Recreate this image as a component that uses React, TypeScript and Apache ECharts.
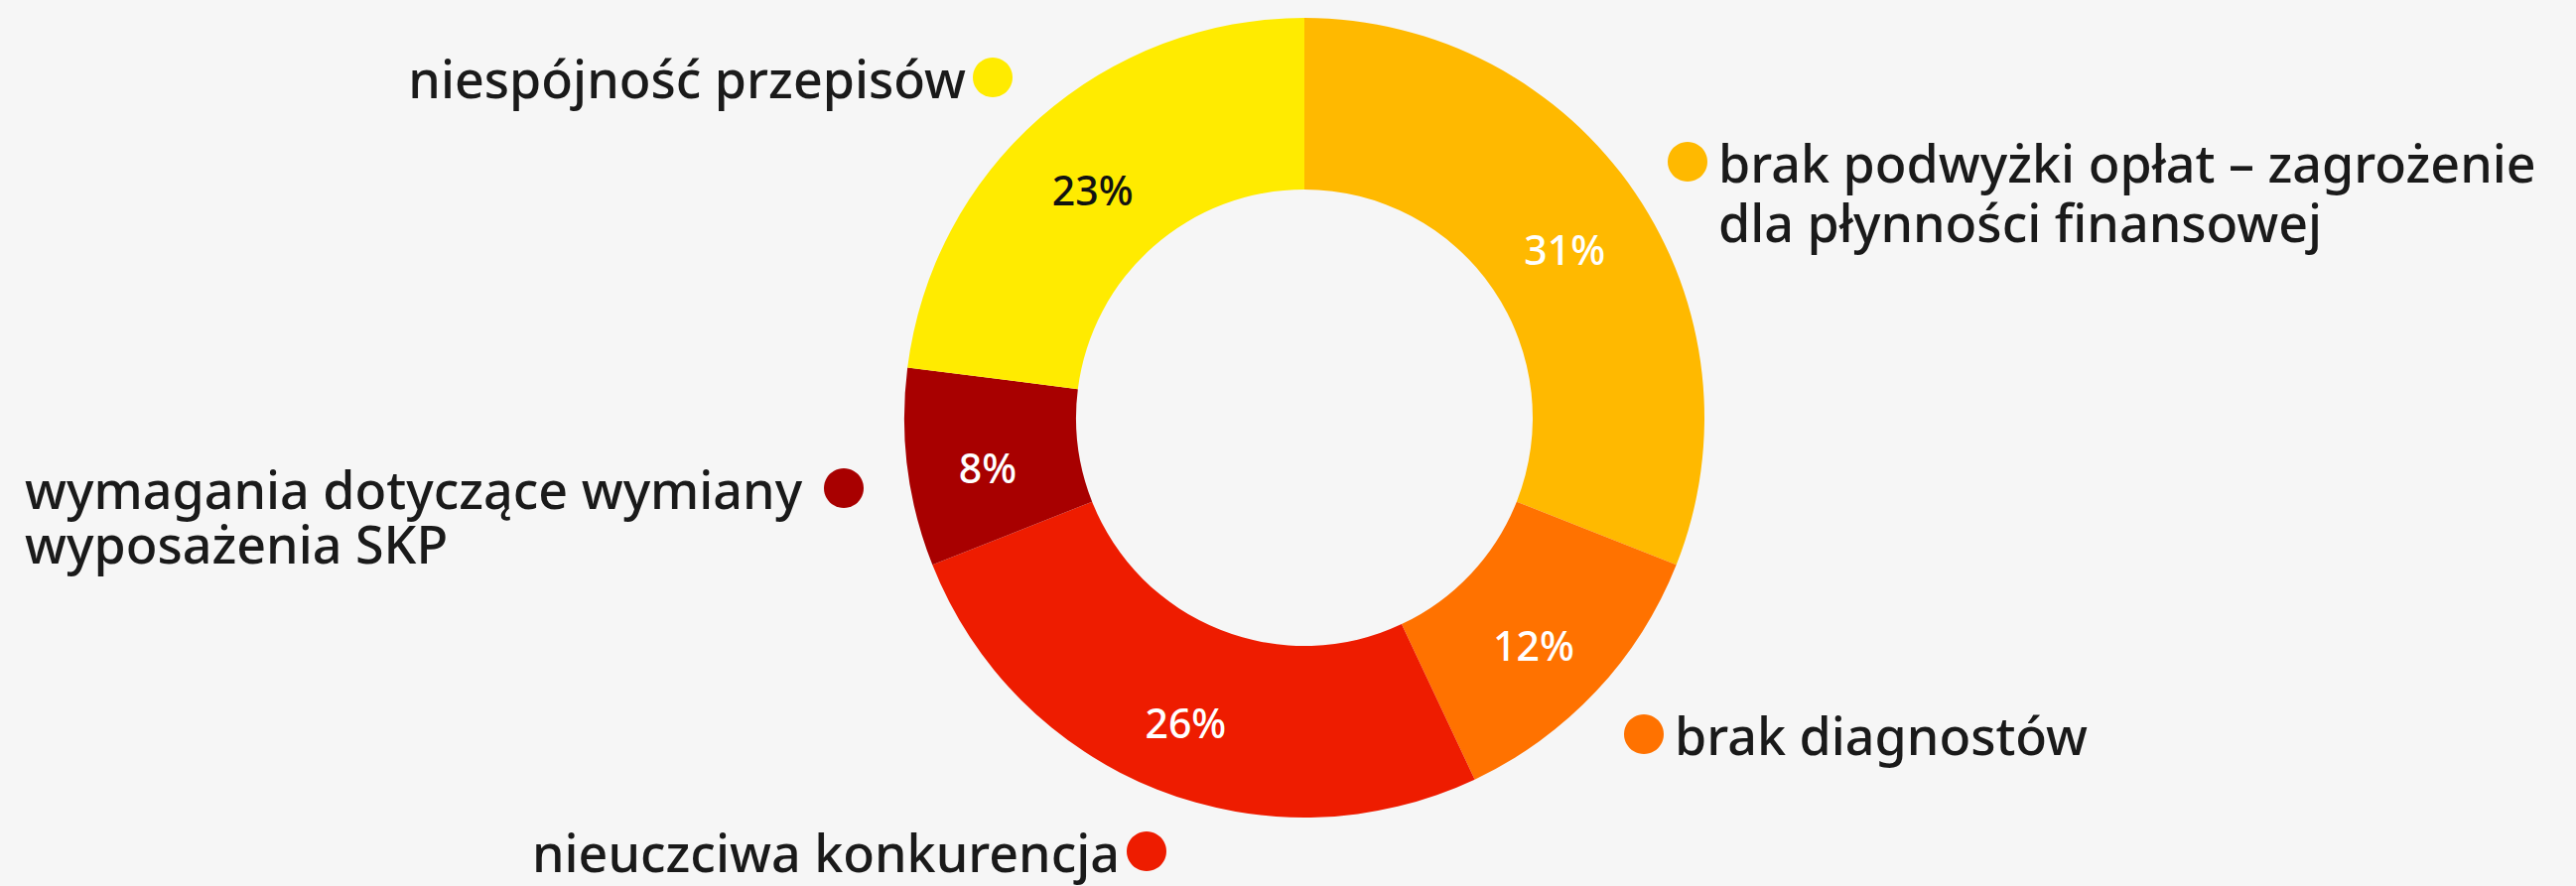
import React, { useEffect, useRef } from "react";
import * as echarts from "echarts";

const categories = [
  "brak podwyżki opłat – zagrożenie\ndla płynności finansowej",
  "brak diagnostów",
  "nieuczciwa konkurencja",
  "wymagania dotyczące wymiany\nwyposażenia SKP",
  "niespójność przepisów",
];
const values = [31, 12, 26, 8, 23];
const colors = ["#FFB900", "#FF7200", "#EE1C00", "#A80000", "#FFEB00"];
const labelColors = ["#ffffff", "#ffffff", "#ffffff", "#ffffff", "#111111"];

// legend label layout: dot centre, text anchor, line height
const legendLayout = [
  { dotX: 1700, dotY: 163, textX: 1731, align: "left", lh: 60 },
  { dotX: 1656, dotY: 740, textX: 1687, align: "left", lh: 60 },
  { dotX: 1155, dotY: 858, textX: 1128, align: "right", lh: 56 },
  { dotX: 850, dotY: 492, textX: 25, align: "left", lh: 55 },
  { dotX: 1000, dotY: 78, textX: 973, align: "right", lh: 56 },
];

const FONT = "'Noto Sans', sans-serif";
const FS = 52;

export default function App() {
  const ref = useRef<HTMLDivElement>(null);
  useEffect(() => {
    if (!ref.current) return;
    const chart = echarts.init(ref.current, null, { renderer: "svg" });
    const graphics: any[] = [];
    categories.forEach((name, i) => {
      const l = legendLayout[i];
      graphics.push({
        type: "circle",
        shape: { cx: l.dotX, cy: l.dotY, r: 20 },
        style: { fill: colors[i] },
        silent: true,
      });
      graphics.push({
        type: "text",
        x: l.textX,
        y: l.dotY - l.lh / 2,
        style: {
          text: name,
          fontSize: FS,
          fontFamily: FONT,
          fontWeight: 500,
          lineHeight: l.lh,
          fill: "#1a1a1a",
          align: l.align,
          verticalAlign: "top",
        },
        silent: true,
      });
    });

    chart.setOption({
      animation: false,
      backgroundColor: "#F6F6F6",
      series: [
        {
          type: "pie",
          center: [1314, 421],
          radius: [230, 403],
          startAngle: 90,
          clockwise: true,
          avoidLabelOverlap: false,
          label: {
            show: true,
            position: "inside",
            formatter: "{c}%",
            fontSize: 41,
            fontFamily: FONT,
            fontWeight: 500,
            offset: [-2, 10],
          },
          labelLine: { show: false },
          itemStyle: { borderWidth: 0 },
          emphasis: { disabled: true },
          data: values.map((v, i) => ({
            value: v,
            name: categories[i],
            itemStyle: { color: colors[i] },
            label: { color: labelColors[i] },
          })),
        },
      ],
      graphic: graphics,
    });
    return () => chart.dispose();
  }, []);
  return (
    <div
      ref={ref}
      style={{ position: "absolute", left: 0, top: 0, width: 2595, height: 893 }}
    />
  );
}
